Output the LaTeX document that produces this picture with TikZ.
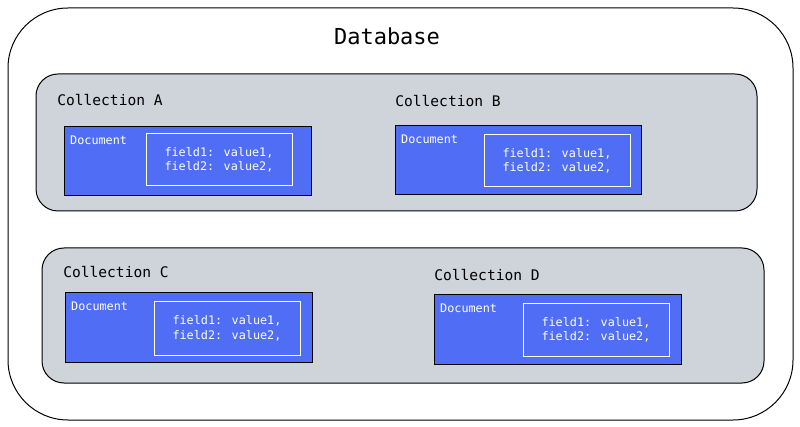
\documentclass[tikz,border=0pt]{standalone}
\usepackage{fontspec}
\setmainfont{DejaVu Sans Mono}
\definecolor{docblue}{HTML}{4F6EF5}
\definecolor{colgray}{HTML}{CFD3DA}
\begin{document}
\begin{tikzpicture}[x=1pt,y=-1pt,
  db/.style={draw=black,line width=1pt,rounded corners=60pt},
  coll/.style={draw=black,fill=colgray,line width=1pt,rounded corners=22pt},
  doc/.style={draw=black,fill=docblue,line width=1pt},
  inner/.style={draw=white,line width=1pt},
  clabel/.style={font=\fontsize{14.6}{17}\selectfont},
  dlabel/.style={text=white,font=\fontsize{11.8}{14}\selectfont,anchor=west,inner sep=0pt},
  ftext/.style={text=white,font=\fontsize{11.8}{14.5}\selectfont,align=left}]
\useasboundingbox (0,0) rectangle (800,427);
\draw[db] (8,8) rectangle (793,420);
\node[font=\fontsize{22}{26}\selectfont] (title) at (387,36) {Database};
\draw[coll] (36,74) rectangle (757,211);
\draw[coll] (42,248) rectangle (764,383);
\node[clabel] (ca) at (110,100) {Collection A};
\node[clabel] (cb) at (448,101) {Collection B};
\node[clabel] (cc) at (116,272) {Collection C};
\node[clabel] (cd) at (487,275) {Collection D};
\foreach \n/\xa/\ya/\xb/\yb/\ia/\ib/\ic/\id in {a/64/127/311/196/146/134/292/186, b/395/126/641/195/484/135/630/187, c/65/293/312/362/154/302/300/355, d/434/295/681/364/523/304/669/356}{
  \draw[doc] (\xa,\ya) rectangle (\xb,\yb);
  \node[dlabel] (dl\n) at (\xa+6,\ya+13) {Document};
  \draw[inner] (\ia,\ib) rectangle (\ic,\id);
  \node[ftext] (f\n) at ({(\ia+\ic)/2},{(\ib+\id)/2}) {field1: value1,\\field2: value2,};
}
\end{tikzpicture}
\end{document}
